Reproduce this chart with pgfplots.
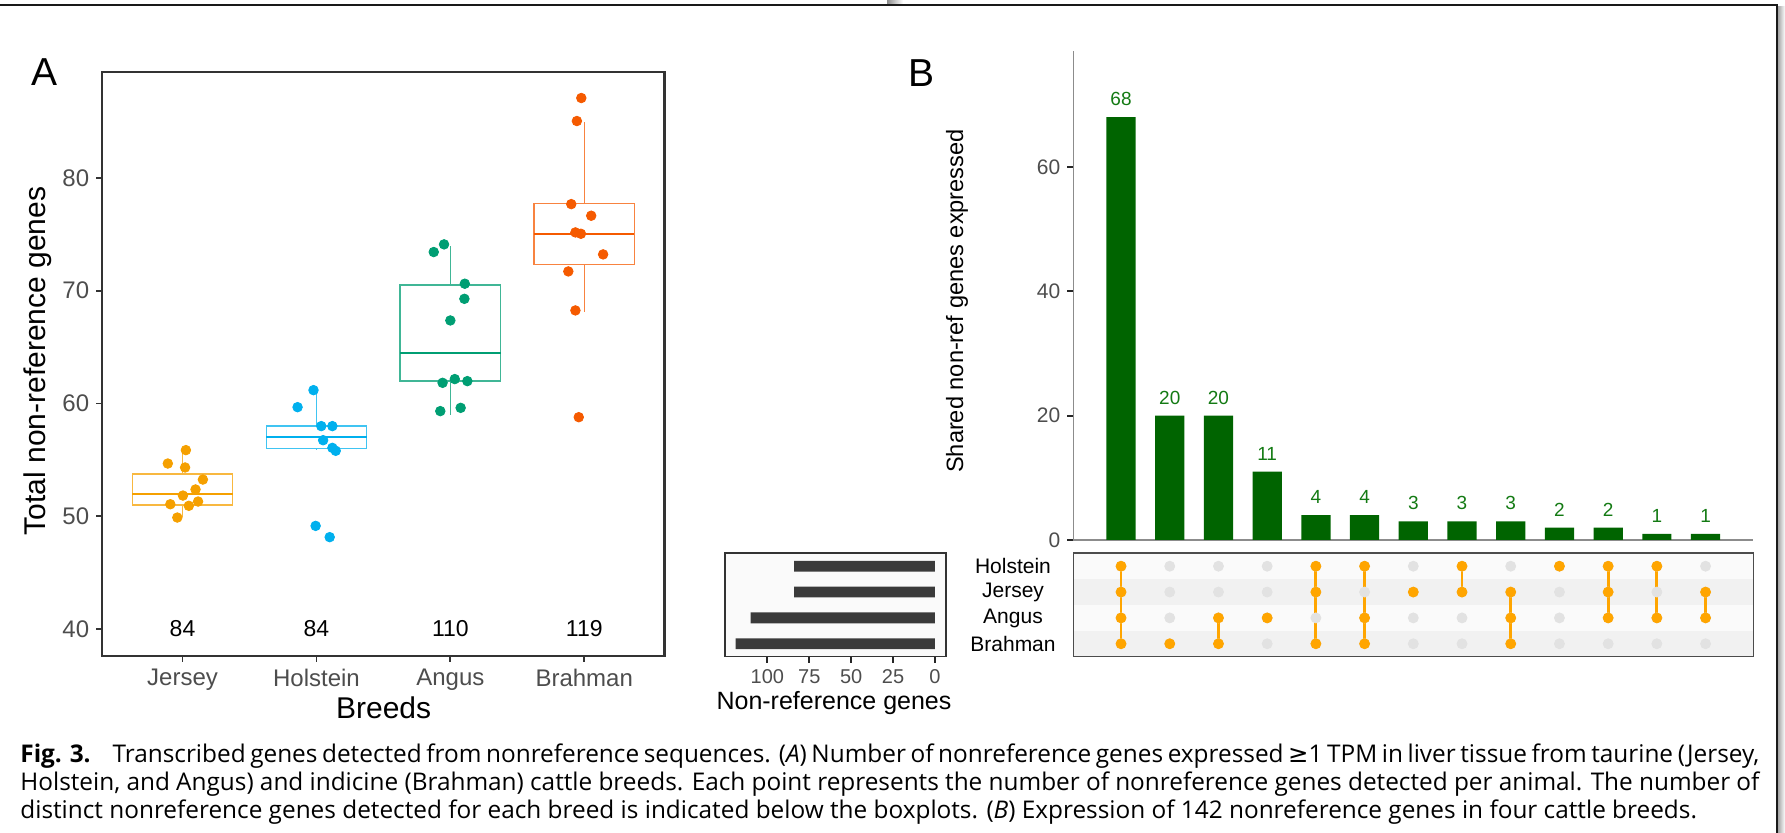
\documentclass[border=0pt]{standalone}
\usepackage{fontspec}
\setmainfont{Liberation Sans}
\newfontfamily\capfont{Open Sans}
\newfontfamily\symfont{DejaVu Sans}
\usepackage{pgfplots}
\pgfplotsset{compat=1.18}
\usepgfplotslibrary{statistics}

\definecolor{cJer}{HTML}{F5A000}
\definecolor{cHol}{HTML}{00B0EE}
\definecolor{cAng}{HTML}{009E73}
\definecolor{cBra}{HTML}{F55A00}
\definecolor{tickgrey}{HTML}{4D4D4D}
\definecolor{barg}{HTML}{006400}
\definecolor{labg}{HTML}{137A13}
\definecolor{dotor}{HTML}{FFA500}
\definecolor{dotgr}{HTML}{E2E2E2}
\definecolor{rowlight}{HTML}{FAFAFA}
\definecolor{rowdark}{HTML}{F1F1F1}
\definecolor{setbar}{HTML}{3A3A3A}

\pgfplotsset{every axis/.append style={/pgf/number format/assume math mode=true}}

\newlength\capw
\newcommand\capthree{distinct nonreference genes detected for each breed is indicated below the boxplots. (\textit{B}) Expression of 142 nonreference genes in four cattle breeds.}

\begin{document}%
\settowidth\capw{\capfont\fontsize{10}{12}\selectfont\capthree}%
\pgfmathsetmacro\capsize{10*838.3/\capw}%
\begin{tikzpicture}
\useasboundingbox (0,0) rectangle (892.5pt,416.5pt);

% page frame of the screenshot
\draw[black!90, line width=1pt] (0,414pt) -- (888.5pt,414pt) -- (888.5pt,0);
\shade[left color=black!35, right color=white] (889pt,0) rectangle (892.5pt,413pt);
\shade[left color=black!45, right color=white] (443.5pt,414.5pt) rectangle (451.5pt,416.5pt);

% ---------------- panel A
\begin{axis}[
  at={(51.1pt,88.5pt)}, anchor=south west, scale only axis,
  width=281.2pt, height=292pt,
  xmin=0.4, xmax=4.6, ymin=37.6, ymax=89.4,
  xtick={1,2,3,4}, xticklabels={Jersey,Holstein,Angus,Brahman},
  ytick={40,50,60,70,80},
  tick align=outside, xtick pos=bottom, ytick pos=left,
  major tick length=3pt,
  tick style={black!80, line width=0.9pt},
  axis line style={black!80, line width=1.2pt},
  ticklabel style={font=\fontsize{12}{12}\selectfont, text=tickgrey},
  boxplot/draw direction=y,
  boxplot/box extend=0.75,
  boxplot/whisker extend=0,
]
\addplot[cJer!75, line width=0.7pt, boxplot prepared={draw position=1,
  lower whisker=49.9, lower quartile=50.98, median=51.98, upper quartile=53.75, upper whisker=55.86}] coordinates {};
\addplot[cHol!75, line width=0.7pt, boxplot prepared={draw position=2,
  lower whisker=55.9, lower quartile=56.0, median=57.0, upper quartile=58.0, upper whisker=61.2}] coordinates {};
\addplot[cAng!75, line width=0.7pt, boxplot prepared={draw position=3,
  lower whisker=59.0, lower quartile=62.0, median=64.5, upper quartile=70.5, upper whisker=74.0}] coordinates {};
\addplot[cBra!75, line width=0.7pt, boxplot prepared={draw position=4,
  lower whisker=68.1, lower quartile=72.3, median=75.0, upper quartile=77.75, upper whisker=85.0}] coordinates {};
% thicker medians
\addplot[cJer, line width=1.1pt] coordinates {(0.625,51.98)(1.375,51.98)};
\addplot[cHol, line width=1.1pt] coordinates {(1.625,57.0)(2.375,57.0)};
\addplot[cAng, line width=1.1pt] coordinates {(2.625,64.5)(3.375,64.5)};
\addplot[cBra, line width=1.1pt] coordinates {(3.625,75.0)(4.375,75.0)};
% points
\addplot[only marks, mark=*, mark size=2.4pt, cJer] coordinates {
  (1.025,55.86) (0.890,54.67) (1.019,54.32) (1.152,53.25) (1.097,52.37)
  (1.003,51.83) (0.909,51.06) (1.047,50.92) (1.116,51.30) (0.961,49.88)};
\addplot[only marks, mark=*, mark size=2.4pt, cHol] coordinates {
  (1.978,61.18) (1.859,59.67) (2.036,57.99) (2.119,57.99) (2.050,56.74)
  (2.119,56.06) (2.144,55.80) (1.994,49.14) (2.099,48.14)};
\addplot[only marks, mark=*, mark size=2.4pt, cAng] coordinates {
  (2.953,74.11) (2.876,73.43) (3.108,70.62) (3.105,69.28) (3.000,67.36)
  (3.033,62.16) (3.127,61.98) (2.942,61.83) (3.077,59.61) (2.925,59.32)};
\addplot[only marks, mark=*, mark size=2.4pt, cBra] coordinates {
  (3.978,87.09) (3.945,85.05) (3.903,77.68) (4.052,76.65) (3.934,75.17)
  (3.975,75.05) (4.141,73.22) (3.881,71.71) (3.934,68.25) (3.959,58.78)};
\node[font=\fontsize{11.5}{12}\selectfont] at (axis cs:1,40) {84};
\node[font=\fontsize{11.5}{12}\selectfont] at (axis cs:2,40) {84};
\node[font=\fontsize{11.5}{12}\selectfont] at (axis cs:3,40) {110};
\node[font=\fontsize{11.5}{12}\selectfont] at (axis cs:4,40) {119};
\end{axis}
\node[font=\fontsize{19.5}{20}\selectfont] at (22.25pt,380.3pt) {A};
\node[font=\fontsize{15}{16}\selectfont, rotate=90] at (19pt,236pt) {Total non-reference genes};
\node[font=\fontsize{15}{16}\selectfont] at (191.8pt,62.5pt) {Breeds};

% ---------------- panel B: intersection sizes
\begin{axis}[
  at={(536.65pt,146.5pt)}, anchor=south west, scale only axis,
  width=340pt, height=244.4pt,
  xmin=0.02, xmax=13.98, ymin=0, ymax=78.6,
  axis x line=bottom, axis y line=left,
  axis line style={-, black!45, line width=0.6pt},
  xtick=\empty, ytick={0,20,40,60},
  tick align=outside, major tick length=3pt,
  tick style={black!85, line width=0.9pt},
  ticklabel style={font=\fontsize{10.5}{11}\selectfont, text=tickgrey},
  ybar, bar width=0.6,
  nodes near coords,
  nodes near coords style={font=\fontsize{9.5}{10}\selectfont, text=labg, anchor=center, yshift=9pt},
]
\addplot[fill=barg, draw=none] coordinates {
  (1,68) (2,20) (3,20) (4,11) (5,4) (6,4) (7,3) (8,3) (9,3) (10,2) (11,2) (12,1) (13,1)};
\end{axis}
\node[font=\fontsize{19.5}{20}\selectfont] at (460.6pt,379.8pt) {B};
\node[font=\fontsize{11.8}{12}\selectfont, rotate=90] at (478.5pt,266pt) {Shared non-ref genes expressed};

% ---------------- panel B: membership matrix
\begin{axis}[
  at={(536.65pt,88.15pt)}, anchor=south west, scale only axis,
  width=340pt, height=51.7pt,
  xmin=0.02, xmax=13.98, ymin=0.5, ymax=4.5,
  xtick=\empty, ytick=\empty,
  axis background/.style={fill=rowlight},
  axis on top,
  axis line style={black!70, line width=0.8pt},
]
\addplot[fill=rowdark, draw=none] coordinates {(0.02,2.5)(13.98,2.5)(13.98,3.5)(0.02,3.5)} -- cycle;
\addplot[fill=rowdark, draw=none] coordinates {(0.02,0.5)(13.98,0.5)(13.98,1.5)(0.02,1.5)} -- cycle;
% all cells (rows: 4 Holstein, 3 Jersey, 2 Angus, 1 Brahman)
\addplot[only marks, mark=*, mark size=2.5pt, dotgr] table {
x y
1 1
1 2
1 3
1 4
2 1
2 2
2 3
2 4
3 1
3 2
3 3
3 4
4 1
4 2
4 3
4 4
5 1
5 2
5 3
5 4
6 1
6 2
6 3
6 4
7 1
7 2
7 3
7 4
8 1
8 2
8 3
8 4
9 1
9 2
9 3
9 4
10 1
10 2
10 3
10 4
11 1
11 2
11 3
11 4
12 1
12 2
12 3
12 4
13 1
13 2
13 3
13 4
};
% connecting segments
\addplot[dotor, line width=1.4pt, unbounded coords=jump] coordinates {
  (1,1)(1,4) (1,nan)
  (3,1)(3,2) (3,nan)
  (5,1)(5,4) (5,nan)
  (6,1)(6,4) (6,nan)
  (8,3)(8,4) (8,nan)
  (9,1)(9,3) (9,nan)
  (11,2)(11,4) (11,nan)
  (12,2)(12,4) (12,nan)
  (13,2)(13,3)};
% members
\addplot[only marks, mark=*, mark size=2.5pt, dotor] table {
x y
1 1
1 2
1 3
1 4
2 1
3 1
3 2
4 2
5 1
5 3
5 4
6 1
6 2
6 4
7 3
8 3
8 4
9 1
9 2
9 3
10 4
11 2
11 3
11 4
12 2
12 4
13 2
13 3
};
\end{axis}
\node[font=\fontsize{10.5}{11}\selectfont] at (506.5pt,133.65pt) {Holstein};
\node[font=\fontsize{10.5}{11}\selectfont] at (506.5pt,120.35pt) {Jersey};
\node[font=\fontsize{10.5}{11}\selectfont] at (506.5pt,107.35pt) {Angus};
\node[font=\fontsize{10.5}{11}\selectfont] at (506.5pt,94.5pt) {Brahman};

% ---------------- set sizes
\begin{axis}[
  at={(362.5pt,88.15pt)}, anchor=south west, scale only axis,
  width=110.5pt, height=51.7pt,
  x dir=reverse, xmin=-6.6, xmax=125.3, ymin=0.5, ymax=4.5,
  xtick={0,25,50,75,100}, ytick=\empty,
  xtick pos=bottom, tick align=outside, major tick length=3pt,
  tick style={black!85, line width=0.9pt},
  ticklabel style={font=\fontsize{10}{11}\selectfont, text=tickgrey},
  axis background/.style={fill=rowlight},
  axis on top,
  axis line style={black!80, line width=0.8pt},
  xbar, bar width=0.42,
]
\addplot[fill=setbar, draw=none] coordinates {(84,4) (84,3) (110,2) (119,1)};
\end{axis}
\node[font=\fontsize{12.5}{13}\selectfont] at (417pt,65pt) {Non-reference genes};

% ---------------- caption
\node[anchor=base west, inner sep=0, font=\capfont\fontsize{\capsize pt}{13pt}\selectfont] at (10pt,35.2pt)
  {\makebox[869.5pt][s]{\textbf{Fig. 3.}\hspace{0.9em}Transcribed genes detected from nonreference sequences. (\textit{A}) Number of nonreference genes expressed {\symfont ≥}1 TPM in liver tissue from taurine (Jersey,}};
\node[anchor=base west, inner sep=0, font=\capfont\fontsize{\capsize pt}{13pt}\selectfont] at (10pt,21.3pt)
  {\makebox[869.5pt][s]{Holstein, and Angus) and indicine (Brahman) cattle breeds. Each point represents the number of nonreference genes detected per animal. The number of}};
\node[anchor=base west, inner sep=0, font=\capfont\fontsize{\capsize pt}{13pt}\selectfont] at (10pt,7.4pt)
  {\capthree};
\end{tikzpicture}
\end{document}
